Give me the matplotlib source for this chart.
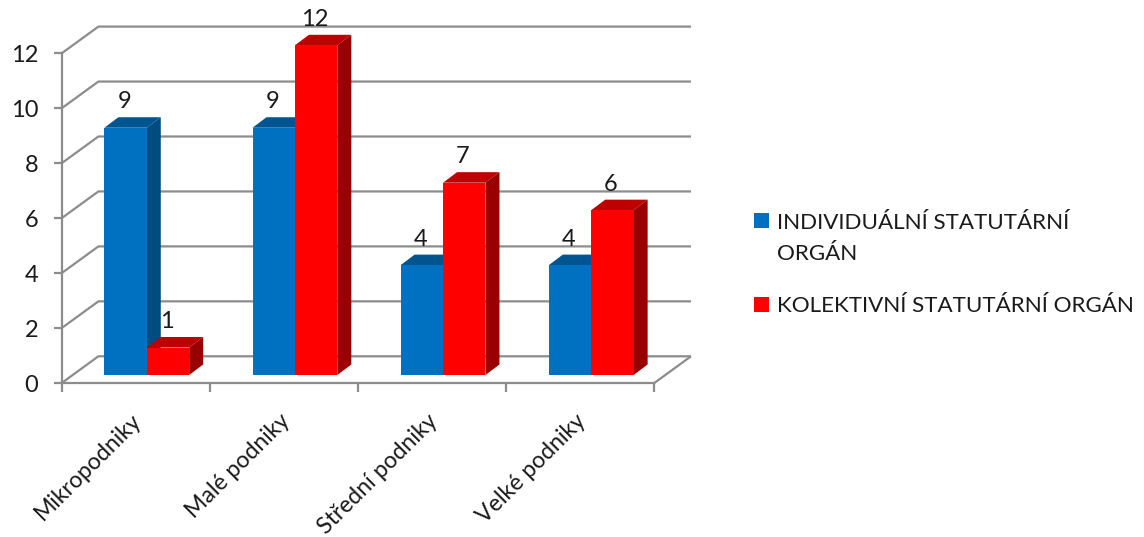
import matplotlib
matplotlib.use("Agg")
import matplotlib.pyplot as plt
from matplotlib.patches import Patch, Rectangle
from matplotlib.legend_handler import HandlerPatch

categories = ["Mikropodniky", "Malé podniky", "Střední podniky", "Velké podniky"]
individual = [9, 9, 4, 4]
kolektivni = [1, 12, 7, 6]
y_ticks = [0, 2, 4, 6, 8, 10, 12]
series_names = ["INDIVIDUÁLNÍ STATUTÁRNÍ\nORGÁN", "KOLEKTIVNÍ STATUTÁRNÍ ORGÁN"]

W, H = 1144, 537
plt.rcParams["font.family"] = ["Lato", "DejaVu Sans"]
fig = plt.figure(figsize=(W / 100, H / 100), dpi=100, facecolor="white")
L, R, T, B = 61.7, 654.3, 53.3, 383.0
ax = fig.add_axes([L / W, 1 - B / H, (R - L) / W, (B - T) / H])
ax.set_xlim(0, 4)
ax.set_ylim(0, 12)
ax.patch.set_visible(False)

px = (R - L) / 4       # pixels per category
py = (B - T) / 12      # pixels per unit
wall_dx, wall_dy = 36.7 / px, 26.7 / py
bar_off_x, bar_off_y = 11 / px, 8 / py
bar_dx, bar_dy = 14 / px, 10.5 / py
bar_w = 42.4 / px

grid_c = "#8c8c8c"
text_c = "#1a1a1a"
line = dict(color=grid_c, lw=1.6, clip_on=False, zorder=1, solid_capstyle="butt")
for v in y_ticks:
    ax.plot([0, wall_dx, 4 + wall_dx], [v, v + wall_dy, v + wall_dy], **line)
ax.plot([4, 4 + wall_dx], [0, wall_dy], **line)


def bar3d(centers, values, offset, front, top, side, z):
    xs = [c + offset * bar_w for c in centers]
    ax.bar(xs, values, width=bar_w, bottom=bar_off_y, color=front, zorder=z + 0.2,
           clip_on=False, linewidth=0)
    for x, v in zip(xs, values):
        x0, x1 = x - bar_w / 2, x + bar_w / 2
        y0, y1 = bar_off_y, bar_off_y + v
        ax.fill([x0, x1, x1 + bar_dx, x0 + bar_dx], [y1, y1, y1 + bar_dy, y1 + bar_dy],
                color=top, lw=0, zorder=z, clip_on=False)
        ax.fill([x1, x1 + bar_dx, x1 + bar_dx, x1], [y0, y0 + bar_dy, y1 + bar_dy, y1],
                color=side, lw=0, zorder=z, clip_on=False)
        ax.annotate(str(v), (x, y1), xytext=(-1, 26 * 0.72), textcoords="offset points",
                    ha="center", va="center", fontsize=17, color=text_c,
                    zorder=8, annotation_clip=False)


centers = [i + 0.5 + bar_off_x for i in range(len(categories))]
blue = ("#0070C0", "#005490", "#004B80")
red = ("#FF0000", "#BF0000", "#990000")
bar3d(centers, individual, -0.5, *blue, 3)
bar3d(centers, kolektivni, 0.5, *red, 4)

for s in ("top", "right"):
    ax.spines[s].set_visible(False)
for s in ("left", "bottom"):
    ax.spines[s].set_color(grid_c)
    ax.spines[s].set_linewidth(1.6)
    ax.spines[s].set_zorder(2)

ax.set_yticks(y_ticks)
ax.tick_params(axis="y", length=6, width=1.6, color=grid_c, labelsize=17, pad=11,
               labelcolor=text_c)
ax.set_xticks(range(5))
ax.set_xticklabels([])
ax.tick_params(axis="x", which="major", length=6.5, width=1.6, color=grid_c)
ax.set_xticks([i + 0.465 for i in range(4)], minor=True)
ax.set_xticklabels(categories, minor=True, rotation=45, ha="right", va="top",
                   rotation_mode="anchor", fontsize=16.6, color=text_c)
ax.tick_params(axis="x", which="minor", length=0, pad=19.5)


class FirstLineHandler(HandlerPatch):
    def __init__(self, shift):
        super().__init__()
        self.shift = shift

    def create_artists(self, legend, orig, xd, yd, width, height, fontsize, trans):
        r = Rectangle((-xd, -yd + self.shift), width, height, facecolor=orig.get_facecolor(),
                      linewidth=0, transform=trans)
        return [r]


h1 = Patch(color=blue[0])
h2 = Patch(color=red[0])
leg = fig.legend([h1, h2], series_names, loc="upper left", bbox_to_anchor=(745 / W, 1 - 204 / H),
                 bbox_transform=fig.transFigure, frameon=False, fontsize=16.1, labelcolor=text_c,
                 handlelength=0.68, handleheight=0.68, handletextpad=0.33, labelspacing=1.42,
                 borderpad=0.4, borderaxespad=0,
                 handler_map={h1: FirstLineHandler(13), h2: FirstLineHandler(0)})
for t in leg.get_texts():
    t.set_linespacing(1.72)

fig.savefig("out.png", dpi=100, facecolor="white")
